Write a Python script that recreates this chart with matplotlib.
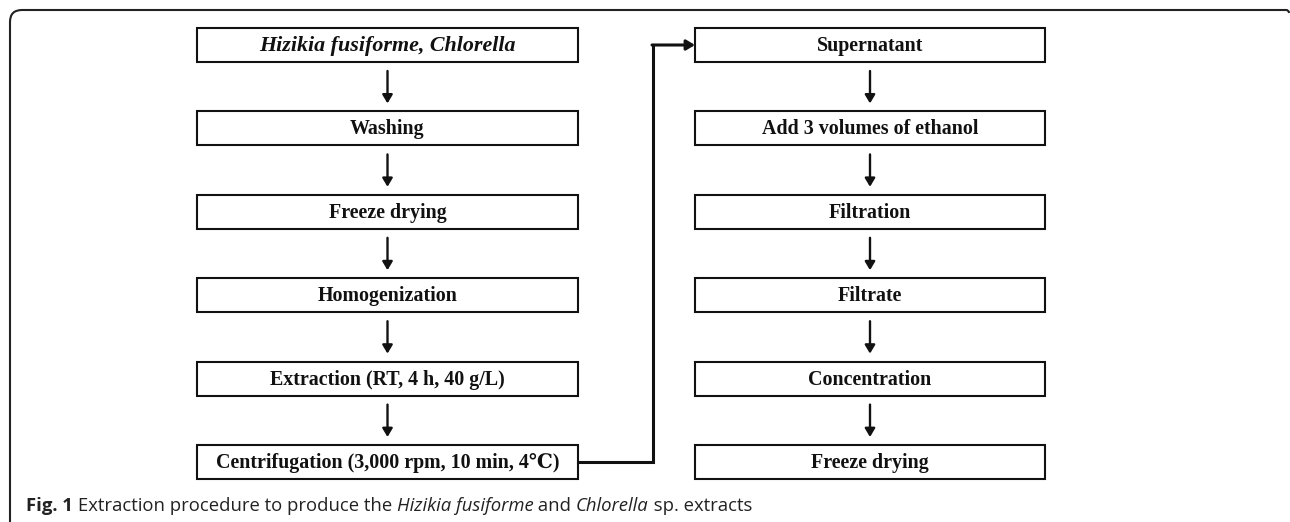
import matplotlib.pyplot as plt
from matplotlib.patches import Rectangle, FancyArrowPatch
from matplotlib.path import Path
from matplotlib.patches import PathPatch

# ── Contenu du schéma ─────────────────────────────────────────────────────────
left_steps = [
    "Hizikia fusiforme, Chlorella",
    "Washing",
    "Freeze drying",
    "Homogenization",
    "Extraction (RT, 4 h, 40 g/L)",
    "Centrifugation (3,000 rpm, 10 min, 4℃)",
]
right_steps = [
    "Supernatant",
    "Add 3 volumes of ethanol",
    "Filtration",
    "Filtrate",
    "Concentration",
    "Freeze drying",
]
italic_steps = ["Hizikia fusiforme, Chlorella"]

caption_parts = [
    ("Fig. 1 ", "bold", "normal"),
    ("Extraction procedure to produce the ", "normal", "normal"),
    ("Hizikia fusiforme", "normal", "italic"),
    (" and ", "normal", "normal"),
    ("Chlorella", "normal", "italic"),
    (" sp. extracts", "normal", "normal"),
]

# ── Mise en page (pixels) ─────────────────────────────────────────────────────
W, H = 1290, 522
row_top0, row_step, box_h = 28, 83.4, 34
left_x0, left_x1 = 197, 578
right_x0, right_x1 = 695, 1045
serif = ["Liberation Serif", "DejaVu Serif"]

fig = plt.figure(figsize=(W / 100, H / 100), dpi=100)
ax = fig.add_axes([0, 0, 1, 1])
ax.set_xlim(0, W)
ax.set_ylim(H, 0)
ax.axis("off")

# cadre extérieur (coins arrondis en haut)
r = 12
frame = Path(
    [(10, H + 5), (10, 10 + r), (10, 10), (10 + r, 10),
     (W - 4, 10), (W - 1, 10), (W - 1, 13)],
    [Path.MOVETO, Path.LINETO, Path.CURVE3, Path.CURVE3,
     Path.LINETO, Path.CURVE3, Path.CURVE3],
)
ax.add_patch(PathPatch(frame, facecolor="none", edgecolor="#222222", lw=1.5))


def draw_column(steps, x0, x1):
    xc = (x0 + x1) / 2
    for i, label in enumerate(steps):
        top = row_top0 + i * row_step
        ax.add_patch(Rectangle((x0, top), x1 - x0, box_h, facecolor="white",
                               edgecolor="#111111", lw=1.5))
        italic = label in italic_steps
        ax.text(xc, top + box_h / 2 + 1, label, ha="center", va="center",
                fontsize=15.8 if italic else 14.4, fontweight="bold",
                style="italic" if italic else "normal", family=serif,
                color="#111111")
        if i < len(steps) - 1:
            y0 = top + box_h + 9
            y1 = row_top0 + (i + 1) * row_step - 8
            ax.add_patch(FancyArrowPatch((xc, y0), (xc, y1),
                                         arrowstyle="-|>,head_length=5,head_width=3",
                                         lw=1.7, color="#111111",
                                         shrinkA=0, shrinkB=0))


draw_column(left_steps, left_x0, left_x1)
draw_column(right_steps, right_x0, right_x1)

# liaison Centrifugation -> Supernatant
last_y = row_top0 + (len(left_steps) - 1) * row_step + box_h / 2
first_y = row_top0 + box_h / 2
bend_x = 653
ax.plot([left_x1, bend_x, bend_x], [last_y, last_y, first_y],
        color="#111111", lw=2.2, solid_joinstyle="miter")
ax.add_patch(FancyArrowPatch((bend_x - 1, first_y), (right_x0, first_y),
                             arrowstyle="-|>,head_length=5,head_width=3",
                             lw=2.2, color="#111111", shrinkA=0, shrinkB=0))

# légende de la figure
fig.canvas.draw()
renderer = fig.canvas.get_renderer()
x = 26
for txt, weight, style in caption_parts:
    t = ax.text(x, 511, txt, ha="left", va="baseline", fontsize=13.3,
                fontweight=weight, style=style, family="Open Sans",
                color="#222222")
    bb = t.get_window_extent(renderer=renderer)
    x += bb.width

fig.savefig("out.png", dpi=100)
